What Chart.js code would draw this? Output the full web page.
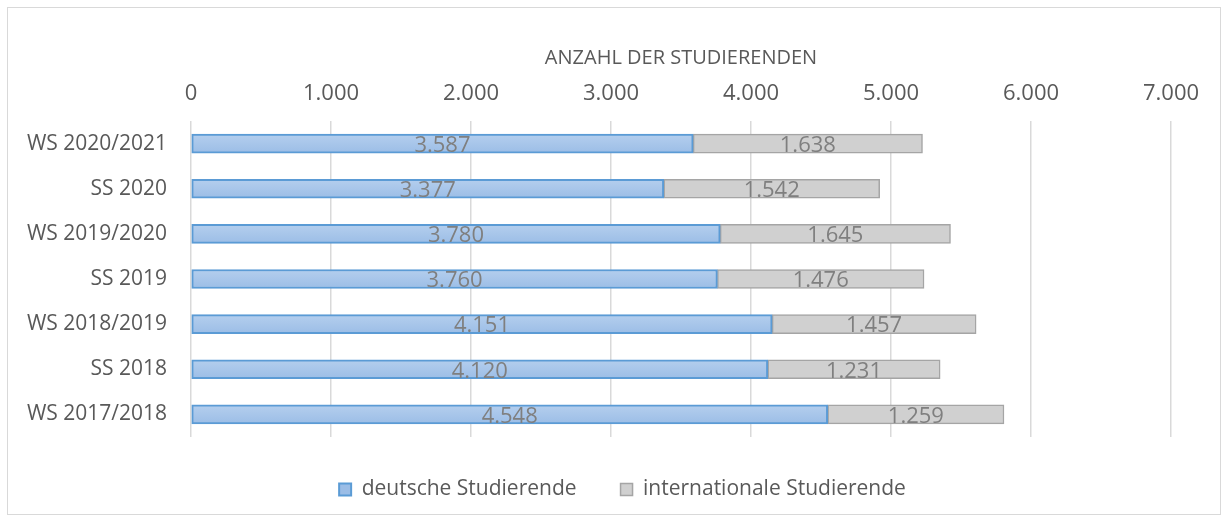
<!DOCTYPE html>
<html lang="de">
<head>
<meta charset="UTF-8" />
<title>Anzahl der Studierenden</title>
<script src="https://cdn.jsdelivr.net/npm/chart.js@4"></script>
<style>
  body { margin: 0; background: #fff; }
  #wrap { position: relative; width: 1228px; height: 522px; }
  #frame { position: absolute; left: 7px; top: 7px; width: 1212px; height: 506px; border: 1px solid #d9d9d9; pointer-events: none; }
</style>
</head>
<body>
<div id="wrap">
  <canvas id="chart" width="1228" height="522"></canvas>
  <div id="frame"></div>
</div>
<script>
// semesters, top to bottom
const semester = ['WS 2020/2021', 'SS 2020', 'WS 2019/2020', 'SS 2019', 'WS 2018/2019', 'SS 2018', 'WS 2017/2018'];
const deutsche = [3587, 3377, 3780, 3760, 4151, 4120, 4548];
const international = [1638, 1542, 1645, 1476, 1457, 1231, 1259];
const seriesNames = ['deutsche Studierende', 'internationale Studierende'];
const axisTitle = 'ANZAHL DER STUDIERENDEN';

const FONT = '"Open Sans", Lato, sans-serif';
const TEXT = '#595959';

function fmt(v) {
  return String(Math.round(v)).replace(/\B(?=(\d{3})+(?!\d))/g, '.');
}

// vertical gradient per bar (lighter top, a bit darker bottom)
function blueFill(ctx) {
  const chart = ctx.chart;
  const y = chart.scales.y;
  if (!y || !chart.chartArea || ctx.dataIndex === undefined) return '#a4c2e8';
  const c = y.getPixelForValue(ctx.dataIndex);
  const g = chart.ctx.createLinearGradient(0, c - 10, 0, c + 10);
  g.addColorStop(0, '#b5cfee');
  g.addColorStop(1, '#9bbde6');
  return g;
}

// numbers inside the segments
const valueLabels = {
  id: 'valueLabels',
  afterDatasetsDraw(chart) {
    const ctx = chart.ctx;
    ctx.save();
    ctx.font = '22px ' + FONT;
    ctx.fillStyle = '#7f7f7f';
    ctx.textAlign = 'center';
    ctx.textBaseline = 'middle';
    chart.data.datasets.forEach((ds, i) => {
      chart.getDatasetMeta(i).data.forEach((bar, j) => {
        const p = bar.getCenterPoint();
        ctx.fillText(fmt(ds.data[j]), p.x, p.y + 2);
      });
    });
    ctx.restore();
  }
};

// legend sits a bit right of the canvas centre, like the original
const legendShift = {
  id: 'legendShift',
  afterLayout(chart) {
    const lg = chart.legend;
    lg.left += 37;
    lg.right += 37;
    lg.top -= 2;
    lg.bottom -= 2;
  }
};

new Chart(document.getElementById('chart'), {
  type: 'bar',
  data: {
    labels: semester,
    datasets: [{
      label: seriesNames[0],
      data: deutsche,
      backgroundColor: blueFill,
      borderColor: '#5b9bd5',
      borderWidth: 2,
      borderSkipped: false,
      barThickness: 19
    }, {
      label: seriesNames[1],
      data: international,
      backgroundColor: '#d0d0d0',
      borderColor: '#a5a5a5',
      borderWidth: 1.5,
      borderSkipped: false,
      barThickness: 19
    }]
  },
  options: {
    indexAxis: 'y',
    responsive: false,
    animation: false,
    layout: { padding: { left: 0, right: 57, top: 46, bottom: 10 } },
    scales: {
      x: {
        position: 'top',
        stacked: true,
        min: 0,
        max: 7000,
        ticks: {
          stepSize: 1000,
          color: TEXT,
          font: { family: FONT, size: 22 },
          padding: 14,
          callback: v => fmt(v)
        },
        grid: { color: '#d9d9d9', lineWidth: 1.5, drawTicks: false },
        border: { display: false },
        title: {
          display: true,
          text: axisTitle,
          color: TEXT,
          font: { family: FONT, size: 20 },
          padding: { top: 0, bottom: 0 }
        },
        afterFit(s) { s.height = 121 - 46; }
      },
      y: {
        stacked: true,
        ticks: {
          color: TEXT,
          font: { family: FONT, size: 21 },
          padding: 24
        },
        grid: { display: false, drawTicks: false },
        border: { display: false },
        afterFit(s) { s.width = 191; }
      }
    },
    plugins: {
      legend: {
        position: 'bottom',
        labels: {
          color: TEXT,
          font: { family: FONT, size: 21 },
          boxWidth: 12,
          boxHeight: 12,
          padding: 44
        }
      },
      tooltip: { enabled: false }
    }
  },
  plugins: [valueLabels, legendShift]
});
</script>
</body>
</html>
